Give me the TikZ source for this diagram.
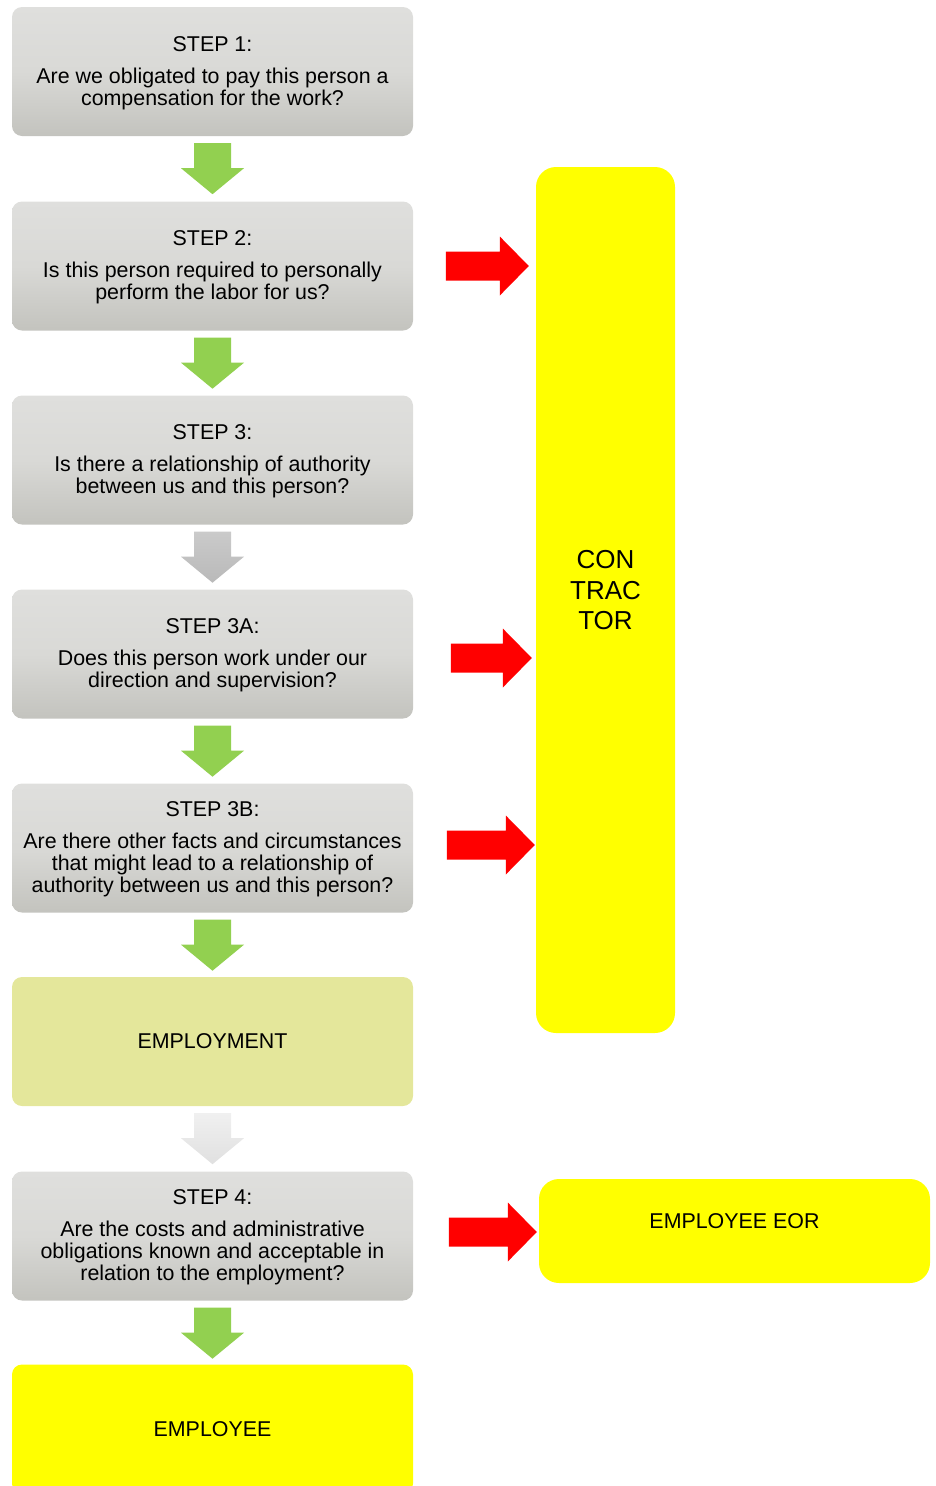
\documentclass[tikz,border=0pt]{standalone}
\usepackage{fontspec}
\setmainfont{Liberation Sans}
\usetikzlibrary{calc}
\definecolor{boxtop}{HTML}{DFDFDD}
\definecolor{boxmid}{HTML}{D9D9D6}
\definecolor{boxbot}{HTML}{C3C3BE}
\definecolor{arrgreen}{HTML}{92D050}
\definecolor{arrred}{HTML}{FF0000}
\definecolor{yel}{HTML}{FFFF00}
\definecolor{emplcol}{HTML}{E4E79B}
\definecolor{graytop}{HTML}{CACACA}
\definecolor{graybot}{HTML}{B9B9B9}
\definecolor{ltop}{HTML}{F0F0F0}
\definecolor{lbot}{HTML}{E0E0E0}
\tikzset{
  basebox/.style={rectangle, rounded corners=10pt, minimum width=401pt, minimum height=129pt,
    inner sep=0pt, align=center, font=\fontsize{21.4}{22}\selectfont, text=black},
  stepbox/.style={basebox, top color=boxtop, bottom color=boxbot, middle color=boxmid},
  emplbox/.style={basebox, fill=emplcol},
  yelbox/.style={basebox, fill=yel},
  sidebox/.style={rectangle, rounded corners=20pt, inner sep=0pt, fill=yel},
  sidetext/.style={align=center, inner sep=0pt, text=black},
  greenarr/.style={fill=arrgreen},
  grayarr/.style={top color=graytop, bottom color=graybot},
  lightarr/.style={top color=ltop, bottom color=lbot},
}
\newcommand\dnarrow[2]{\path[#2] ($(#1)+(-18.5,7)$) -- ++(37,0) -- ++(0,25) -- ++(13,0) -- ++(-31.5,26) -- ++(-31.5,-26) -- ++(13,0) -- cycle;}
\newcommand\rtarrow[2]{\fill[arrred] (#1) -- ++(-29,-29.5) -- ++(0,15) -- ++(-#2,0) -- ++(0,29) -- ++(#2,0) -- ++(0,15) -- cycle;}
\begin{document}
\begin{tikzpicture}[x=1pt,y=-1pt]
\useasboundingbox (0,0) rectangle (936,1486);
\clip (0,0) rectangle (936,1486);
\node[stepbox, text depth=1.5pt] (s1) at (212.5,71.5) {STEP 1:\\[10pt]Are we obligated to pay this person a\\compensation for the work?};
\node[stepbox, text depth=1.5pt] (s2) at (212.5,266) {STEP 2:\\[10pt]Is this person required to personally\\perform the labor for us?};
\node[stepbox, text depth=1.5pt] (s3) at (212.5,460) {STEP 3:\\[10pt]Is there a relationship of authority\\between us and this person?};
\node[stepbox, text depth=1.5pt] (s3a) at (212.5,654) {STEP 3A:\\[10pt]Does this person work under our\\direction and supervision?};
\node[stepbox, text depth=1.5pt] (s3b) at (212.5,848) {STEP 3B:\\[10pt]Are there other facts and circumstances\\that might lead to a relationship of\\authority between us and this person?};
\node[emplbox] (em) at (212.5,1041.5) {EMPLOYMENT};
\node[stepbox, text depth=1.5pt] (s4) at (212.5,1236) {STEP 4:\\[10pt]Are the costs and administrative\\obligations known and acceptable in\\relation to the employment?};
\node[yelbox] (ee) at (212.5,1429) {EMPLOYEE};
\node[sidebox, minimum width=139pt, minimum height=866pt] (con) at (605.5,600) {};
\node[sidetext, font=\fontsize{26}{30.5}\selectfont] (contxt) at (605.5,590.5) {CON\\TRAC\\TOR};
\node[sidebox, minimum width=391pt, minimum height=104pt] (eor) at (734.5,1231) {};
\node[sidetext, font=\fontsize{21.4}{22}\selectfont] (eortxt) at (734.5,1221.5) {EMPLOYEE EOR};
\dnarrow{s1.south}{greenarr}
\dnarrow{s2.south}{greenarr}
\dnarrow{s3.south}{grayarr}
\dnarrow{s3a.south}{greenarr}
\dnarrow{s3b.south}{greenarr}
\dnarrow{em.south}{lightarr}
\dnarrow{s4.south}{greenarr}
\rtarrow{$(con.west |- s2.east)+(-7,0)$}{54}
\rtarrow{$(con.west |- s3a.east)+(-4,4)$}{52}
\rtarrow{$(con.west |- s3b.east)+(-1,-3)$}{59}
\rtarrow{$(eor.west)+(-2,1)$}{59}
\end{tikzpicture}
\end{document}
